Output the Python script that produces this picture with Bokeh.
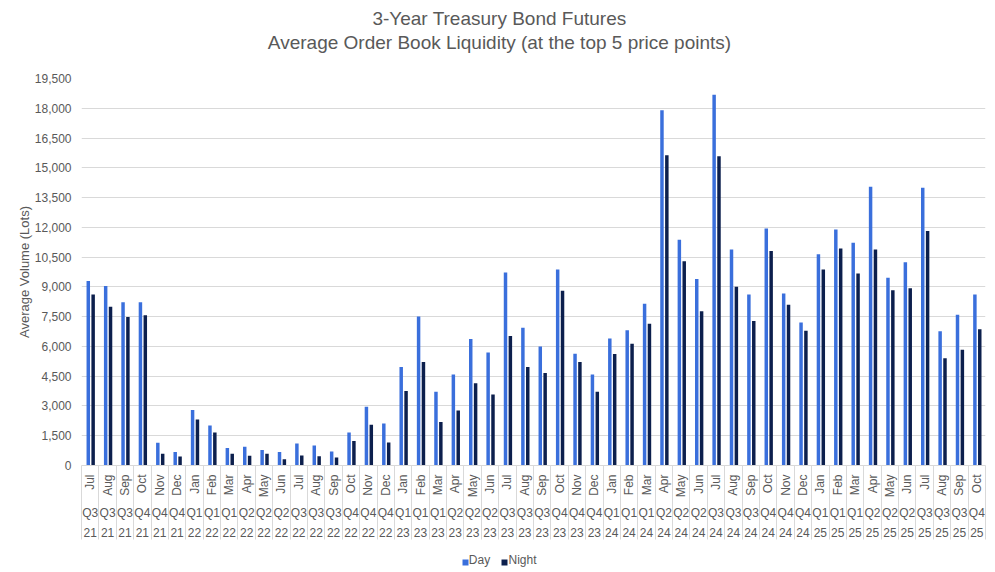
import numpy as np
from bokeh.plotting import figure
from bokeh.models import (ColumnDataSource, Range1d, LinearAxis, FixedTicker,
                          NumeralTickFormatter)
from bokeh.transform import dodge
from bokeh.embed import file_html
from bokeh.resources import INLINE

# ---------------- data ----------------
months = ["Jul", "Aug", "Sep", "Oct", "Nov", "Dec",
          "Jan", "Feb", "Mar", "Apr", "May", "Jun", "Jul", "Aug", "Sep", "Oct", "Nov", "Dec",
          "Jan", "Feb", "Mar", "Apr", "May", "Jun", "Jul", "Aug", "Sep", "Oct", "Nov", "Dec",
          "Jan", "Feb", "Mar", "Apr", "May", "Jun", "Jul", "Aug", "Sep", "Oct", "Nov", "Dec",
          "Jan", "Feb", "Mar", "Apr", "May", "Jun", "Jul", "Aug", "Sep", "Oct"]
quarters = ["Q3", "Q3", "Q3", "Q4", "Q4", "Q4",
            "Q1", "Q1", "Q1", "Q2", "Q2", "Q2", "Q3", "Q3", "Q3", "Q4", "Q4", "Q4",
            "Q1", "Q1", "Q1", "Q2", "Q2", "Q2", "Q3", "Q3", "Q3", "Q4", "Q4", "Q4",
            "Q1", "Q1", "Q1", "Q2", "Q2", "Q2", "Q3", "Q3", "Q3", "Q4", "Q4", "Q4",
            "Q1", "Q1", "Q1", "Q2", "Q2", "Q2", "Q3", "Q3", "Q3", "Q4"]
years = ["21"] * 6 + ["22"] * 12 + ["23"] * 12 + ["24"] * 12 + ["25"] * 10

day = [9300, 9050, 8220, 8220, 1150, 680,
       2800, 2020, 880, 950, 780, 680, 1110, 1010, 710, 1660, 2960, 2120,
       4960, 7510, 3720, 4590, 6370, 5700, 9730, 6940, 6000, 9880, 5630, 4590,
       6400, 6810, 8150, 17900, 11380, 9400, 18680, 10880, 8610, 11940, 8670, 7210,
       10640, 11890, 11230, 14040, 9460, 10240, 14000, 6770, 7600, 8610]
night = [8620, 8000, 7480, 7570, 590, 450,
         2320, 1660, 590, 490, 590, 320, 500, 470, 400, 1240, 2050, 1160,
         3750, 5210, 2190, 2770, 4140, 3580, 6520, 4960, 4660, 8810, 5210, 3720,
         5620, 6140, 7140, 15630, 10290, 7770, 15580, 9010, 7280, 10810, 8100, 6790,
         9870, 10930, 9670, 10890, 8830, 8930, 11820, 5410, 5830, 6860]

series_names = ["Day", "Night"]
y_ticks = list(range(0, 19501, 1500))

title_lines = ["3-Year Treasury Bond Futures",
               "Average Order Book Liquidity (at the top 5 price points)"]

# ---------------- style / layout ----------------
FONT = "Liberation Sans"
GRAY = "#595959"
LINE = "#d9d9d9"
DAY_C = "#3a6fdc"
NIGHT_C = "#0c1f4d"

W, H = 993, 570
FRAME_L, FRAME_R, FRAME_T, FRAME_B = 81, 985, 78, 465
TITLE_CX = 499                    # title centre, px
LEG_TEXT_PX = [479, 522]          # legend label centres, px
LEG_SWATCH_PX = [465, 504]        # legend swatch centres, px

n = len(months)
idx = list(range(n))
src = ColumnDataSource(dict(idx=idx, day=day, night=night))

x_start, x_end = -0.5, n - 0.5


def px2x(px):
    return round(x_start + (px - FRAME_L) / (FRAME_R - FRAME_L) * (x_end - x_start), 3)


p = figure(width=W, height=H, output_backend="svg", toolbar_location=None,
           x_range=Range1d(x_start, x_end), y_range=Range1d(0, y_ticks[-1]),
           x_axis_type=None,
           min_border_left=FRAME_L, min_border_right=W - FRAME_R,
           min_border_top=FRAME_T, min_border_bottom=H - FRAME_B)
p.outline_line_color = None
p.background_fill_color = "white"


def bare_axis(ticks, minor=(), **kw):
    opts = dict(major_label_text_font=FONT, major_label_text_font_size="12px",
                major_label_text_color=GRAY,
                major_tick_line_color=None, minor_tick_line_color=None,
                major_tick_in=0, major_tick_out=0, minor_tick_in=0, minor_tick_out=0,
                axis_line_color=None)
    opts.update(kw)
    return LinearAxis(ticker=FixedTicker(ticks=list(ticks), minor_ticks=list(minor)), **opts)


# titles: labels of two label-only axes above the frame
title_x = px2x(TITLE_CX)
p.add_layout(bare_axis([title_x], major_label_overrides={title_x: title_lines[1]},
                       major_label_standoff=26, major_label_text_font_size="19px"), "above")
p.add_layout(bare_axis([title_x], major_label_overrides={title_x: title_lines[0]},
                       major_label_standoff=0, major_label_text_font_size="19px"), "above")

# y axis
yax = p.yaxis[0]
yax.ticker = FixedTicker(ticks=y_ticks)
yax.formatter = NumeralTickFormatter(format="0,0")
yax.axis_line_color = None
yax.major_tick_line_color = None
yax.minor_tick_line_color = None
yax.major_tick_out = 0
yax.major_label_standoff = 10
yax.major_label_text_font = FONT
yax.major_label_text_font_size = "12px"
yax.major_label_text_color = GRAY
yax.axis_label = "Average Volume (Lots)"
yax.axis_label_text_font = FONT
yax.axis_label_text_font_size = "13px"
yax.axis_label_text_font_style = "normal"
yax.axis_label_text_color = GRAY
yax.axis_label_standoff = 0

p.ygrid.ticker = FixedTicker(ticks=y_ticks)
p.ygrid.grid_line_color = LINE
p.ygrid.grid_line_width = 1

# bars
p.vbar(x=dodge("idx", -0.11, range=p.x_range), top="day", width=0.2,
       source=src, fill_color=DAY_C, line_color=None)
p.vbar(x=dodge("idx", 0.17, range=p.x_range), top="night", width=0.2,
       source=src, fill_color=NIGHT_C, line_color=None)

# multi-level category axis (table-like): month / quarter / year rows
p.add_layout(bare_axis(idx, major_label_overrides=dict(zip(idx, months)),
                       major_label_orientation=np.pi / 2, major_label_standoff=9,
                       axis_line_color=LINE), "below")
p.add_layout(bare_axis(idx, major_label_overrides=dict(zip(idx, quarters)),
                       major_label_standoff=5), "below")
p.add_layout(bare_axis(idx, major_label_overrides=dict(zip(idx, years)),
                       major_label_standoff=5), "below")

bounds = [i - 0.5 for i in range(n + 1)]
p.add_layout(bare_axis([], bounds, minor_tick_in=74, minor_tick_line_color=LINE,
                       minor_tick_line_width=1, major_label_standoff=0,
                       major_label_text_font_size="0px"), "below")

# legend row: labels, then coloured swatches drawn up into the label row
leg_x = [px2x(v) for v in LEG_TEXT_PX]
sw_x = [px2x(v) for v in LEG_SWATCH_PX]
p.add_layout(bare_axis(leg_x, major_label_overrides=dict(zip(leg_x, series_names)),
                       major_label_standoff=13), "below")
p.add_layout(bare_axis([sw_x[0]], [sw_x[1]],
                       major_tick_line_color=DAY_C, major_tick_line_width=6,
                       major_tick_in=10, major_tick_out=-4,
                       minor_tick_line_color=NIGHT_C, minor_tick_line_width=6,
                       minor_tick_in=10, minor_tick_out=-4,
                       major_label_standoff=0, major_label_text_font_size="0px",
                       major_label_text_alpha=0), "below")

open("out.html", "w").write(file_html(p, INLINE))
